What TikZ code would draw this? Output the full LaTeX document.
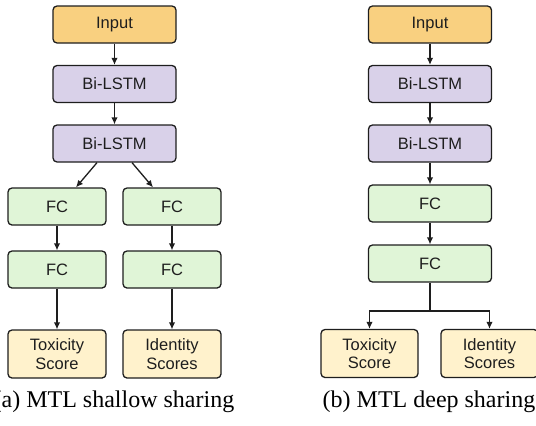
\documentclass[tikz,border=0pt]{standalone}
\usepackage{fontspec}
\setmainfont{Liberation Serif}
\newfontfamily\boxfont{Liberation Sans}
\usetikzlibrary{arrows.meta}

\definecolor{inputcol}{RGB}{249,208,128}
\definecolor{lstmcol}{RGB}{217,209,233}
\definecolor{fccol}{RGB}{224,245,215}
\definecolor{outcol}{RGB}{255,242,204}
\definecolor{edgecol}{RGB}{30,30,30}

\tikzset{
  layer/.style={draw=edgecol, line width=1.3pt, rounded corners=4pt, inner sep=0pt,
    minimum width=123pt, minimum height=37pt, text=edgecol,
    font=\boxfont\fontsize{16.5}{18.5}\selectfont, align=center},
  inbox/.style={layer, fill=inputcol},
  lstmbox/.style={layer, fill=lstmcol},
  fcbox/.style={layer, fill=fccol},
  outbox/.style={layer, fill=outcol, minimum height=48pt},
  flow/.style={draw=edgecol, line width=1.3pt, -{Latex[length=7pt,width=6.5pt]}},
  caption/.style={anchor=base, font=\fontsize{24}{28}\selectfont}
}

\begin{document}
\begin{tikzpicture}[x=1pt,y=-1pt]
            \useasboundingbox (0,0) rectangle (536,426);
            % (a) shallow sharing
            \node[inbox] (inA) at (114.5,24.5) {Input};
            \node[lstmbox] (lstmA1) at (114.5,84) {Bi-LSTM};
            \node[lstmbox] (lstmA2) at (114.5,143.5) {Bi-LSTM};
            \node[fcbox, minimum width=98pt] (fcL1) at (57,206.5) {FC};
            \node[fcbox, minimum width=98pt] (fcR1) at (172,206.5) {FC};
            \node[fcbox, minimum width=98pt] (fcL2) at (57,269.5) {FC};
            \node[fcbox, minimum width=98pt] (fcR2) at (172,269.5) {FC};
            \node[outbox, minimum width=98pt] (toxA) at (57,354) {Toxicity\\Score};
            \node[outbox, minimum width=98pt] (idA) at (172,354) {Identity\\Scores};
            \draw[flow] (inA) -- (lstmA1);
            \draw[flow] (lstmA1) -- (lstmA2);
            \draw[flow] ([xshift=-17.5pt]lstmA2.south) -- ([xshift=19pt]fcL1.north);
            \draw[flow] ([xshift=17.5pt]lstmA2.south) -- ([xshift=-19pt]fcR1.north);
            \draw[flow] (fcL1) -- (fcL2);
            \draw[flow] (fcR1) -- (fcR2);
            \draw[flow] (fcL2) -- (toxA);
            \draw[flow] (fcR2) -- (idA);
            \node[caption] (capA) at (114,407) {(a) MTL shallow sharing};
            % (b) deep sharing
            \node[inbox] (inB) at (430,24.5) {Input};
            \node[lstmbox] (lstmB1) at (430,84) {Bi-LSTM};
            \node[lstmbox] (lstmB2) at (430,143.5) {Bi-LSTM};
            \node[fcbox] (fcB1) at (430,203.5) {FC};
            \node[fcbox] (fcB2) at (430,263.5) {FC};
            \node[outbox, minimum width=97pt] (toxB) at (369.5,353.5) {Toxicity\\Score};
            \node[outbox, minimum width=97pt] (idB) at (489.5,353.5) {Identity\\Scores};
            \coordinate (split) at (430,311);
            \draw[flow] (inB) -- (lstmB1);
            \draw[flow] (lstmB1) -- (lstmB2);
            \draw[flow] (lstmB2) -- (fcB1);
            \draw[flow] (fcB1) -- (fcB2);
            \draw[draw=edgecol, line width=1.3pt] (fcB2.south) -- (split);
            \draw[flow] (split) -| (toxB.north);
            \draw[flow] (split) -| (idB.north);
            \node[caption] (capB) at (429,407) {(b) MTL deep sharing};
        \end{tikzpicture}
\end{document}
